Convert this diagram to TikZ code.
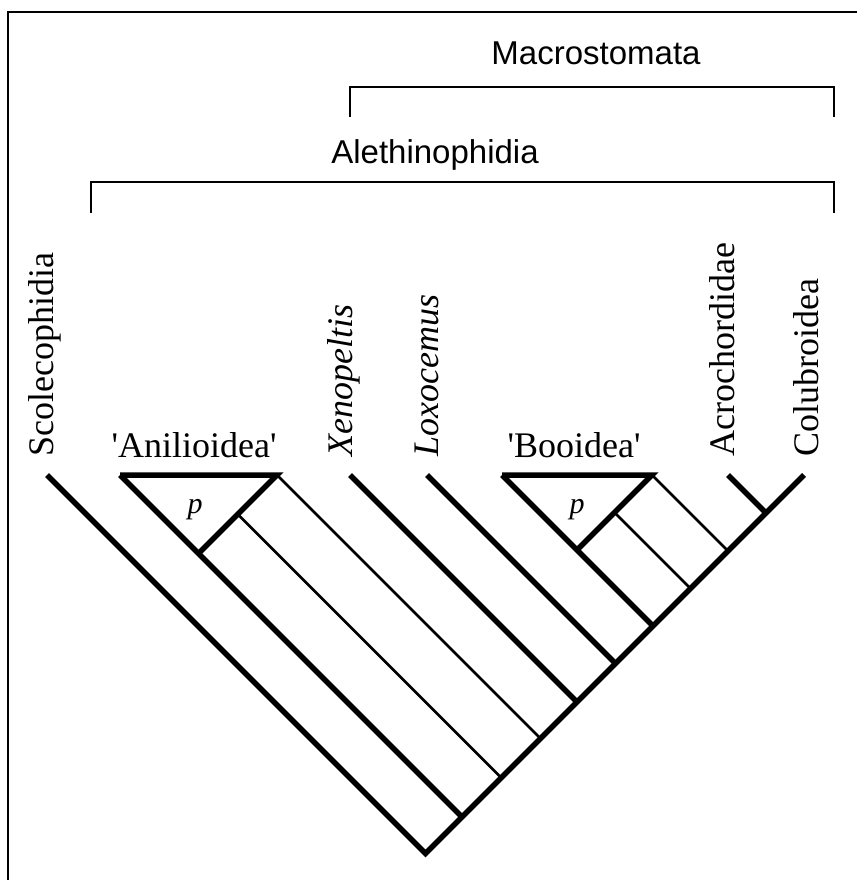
\documentclass[tikz,border=0pt]{standalone}
\usepackage{fontspec}
\setmainfont{Liberation Serif}
\setsansfont{Liberation Sans}
\begin{document}
\begin{tikzpicture}[x=1pt,y=-1pt,
  thickbranch/.style={line width=5.5pt, line cap=butt, line join=miter},
  thinbranch/.style={line width=2.6pt, line cap=butt},
  bracketline/.style={line width=2.2pt},
  frameline/.style={line width=2pt},
  taxon/.style={font=\fontsize{36}{42}\selectfont, inner sep=0pt},
  vtaxon/.style={taxon, rotate=90, anchor=base west},
  htaxon/.style={taxon, anchor=base},
  clade/.style={font=\sffamily\fontsize{33}{39}\selectfont, inner sep=0pt, anchor=base},
  plabel/.style={font=\itshape\fontsize{30}{36}\selectfont, inner sep=0pt},
]
\useasboundingbox (0,0) rectangle (857,880);
% frame (left and top only)
\coordinate (fbl) at (8,880);
\coordinate (ftl) at (8,12);
\coordinate (ftr) at (857,12);
\draw[frameline] (fbl) -- (ftl) -- (ftr);

% brackets
\coordinate (m1) at (350,117); \coordinate (m2) at (350,87);
\coordinate (m3) at (834,87);  \coordinate (m4) at (834,117);
\draw[bracketline] (m1) -- (m2) -- (m3) -- (m4);
\coordinate (a1) at (91,213); \coordinate (a2) at (91,182);
\coordinate (a3) at (834,182); \coordinate (a4) at (834,213);
\draw[bracketline] (a1) -- (a2) -- (a3) -- (a4);
\node[clade] (macro) at (596,65) {Macrostomata};
\node[clade] (aleth) at (435,163) {Alethinophidia};

% tree points
\coordinate (S) at (47,475);
\coordinate (R) at (425.5,853.5);
\coordinate (C) at (804,475);
\coordinate (A1) at (120,475);
\coordinate (A2) at (277,475);
\coordinate (Aap) at (198.5,553.5);
\coordinate (Aj) at (462,817);
\coordinate (Am) at (237.75,514.25);
\coordinate (Amj) at (501.25,777.75);
\coordinate (A2j) at (540.5,738.5);
\coordinate (X) at (350,475);
\coordinate (Xj) at (577,702);
\coordinate (L) at (427,475);
\coordinate (Lj) at (615.5,663.5);
\coordinate (B1) at (502,475);
\coordinate (B2) at (652,475);
\coordinate (Bap) at (577,550);
\coordinate (Bj) at (653,626);
\coordinate (Bm) at (614.5,512.5);
\coordinate (Bmj) at (690.5,588.5);
\coordinate (B2j) at (728,551);
\coordinate (Ac) at (728,475);
\coordinate (Acj) at (766,513);

% thick branches
\draw[thickbranch] (S) -- (R) -- (C);
\draw[thickbranch] (A1) -- (Aj);
\draw[thickbranch] (Aap) -- (A2) -- (A1);
\draw[thickbranch] (X) -- (Xj);
\draw[thickbranch] (L) -- (Lj);
\draw[thickbranch] (B1) -- (Bj);
\draw[thickbranch] (Bap) -- (B2) -- (B1);
\draw[thickbranch] (Ac) -- (Acj);
% thin branches
\draw[thinbranch] (Am) -- (Amj);
\draw[thinbranch] (A2) -- (A2j);
\draw[thinbranch] (Bm) -- (Bmj);
\draw[thinbranch] (B2) -- (B2j);

% p labels
\node[plabel] (pA) at (195,510) {p};
\node[plabel] (pB) at (577,510) {p};

% taxon labels
\node[vtaxon] (tS) at (53,457) {Scolecophidia};
\node[htaxon] (tA) at (194,457) {\textquotesingle Anilioidea\textquotesingle};
\node[vtaxon] (tX) at (352,457) {\itshape Xenopeltis};
\node[vtaxon] (tL) at (438,457) {\itshape Loxocemus};
\node[htaxon] (tB) at (574,457) {\textquotesingle Booidea\textquotesingle};
\node[vtaxon] (tAc) at (734,457) {Acrochordidae};
\node[vtaxon] (tC) at (818,457) {Colubroidea};
\end{tikzpicture}
\end{document}
